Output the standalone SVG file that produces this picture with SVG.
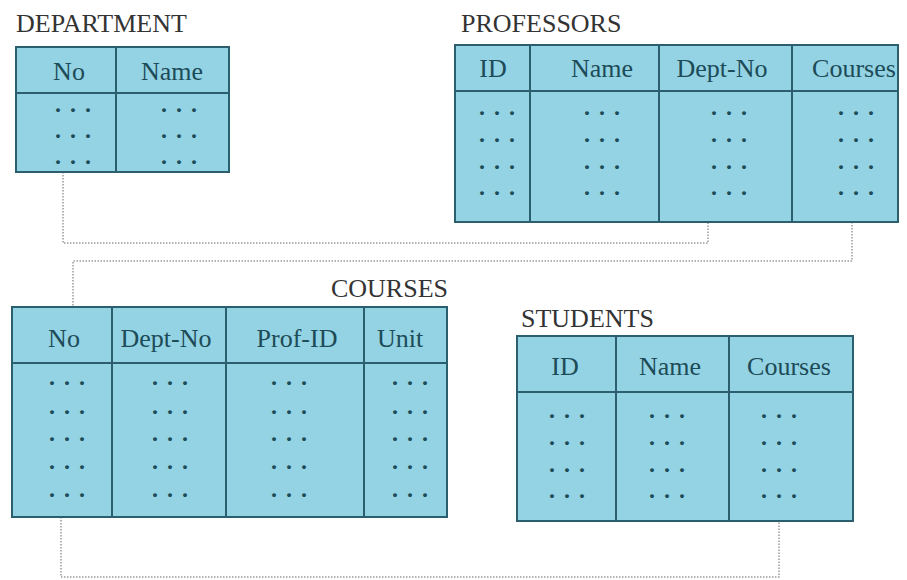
<svg xmlns="http://www.w3.org/2000/svg" width="907" height="580" viewBox="0 0 907 580" font-family="Liberation Serif, DejaVu Serif, serif">
  <style>
    .tbl { fill: #93d3e4; stroke: #2c5f6e; stroke-width: 2; }
    .grid { stroke: #2c5f6e; stroke-width: 2; fill: none; }
    .title { font-size: 26px; fill: #333333; }
    .hdr { font-size: 26px; fill: #1d4b57; text-anchor: middle; }
    .dots { font-size: 24px; font-weight: bold; fill: #1d4b57; letter-spacing: 9px; }
    .link { fill: none; stroke: #9a9a9a; stroke-width: 1.5; stroke-dasharray: 1.5 1.5; }
  </style>
  <rect width="907" height="580" fill="#ffffff"/>

  <!-- relationships between tables -->
  <g id="connectors">
    <path class="link" d="M63,172 V243 H708 V222"/>
    <path class="link" d="M852,222 V261 H73 V307"/>
    <path class="link" d="M61,517 V577 H779 V521"/>
  </g>

  <!-- DEPARTMENT -->
  <g id="department">
    <text class="title" x="16" y="32">DEPARTMENT</text>
    <rect class="tbl" x="16" y="47" width="213" height="125"/>
    <path class="grid" d="M16,93 H229 M116,47 V172"/>
    <text class="hdr" x="69" y="80">No</text>
    <text class="hdr" x="172" y="80">Name</text>
    <g class="dots">
      <text x="55" y="112">...</text><text x="161" y="112">...</text>
      <text x="55" y="138">...</text><text x="161" y="138">...</text>
      <text x="55" y="164">...</text><text x="161" y="164">...</text>
    </g>
  </g>

  <!-- PROFESSORS -->
  <g id="professors">
    <text class="title" x="461" y="32">PROFESSORS</text>
    <rect class="tbl" x="455" y="45" width="443" height="177"/>
    <path class="grid" d="M455,91 H898 M530,45 V222 M659,45 V222 M792,45 V222"/>
    <text class="hdr" x="493" y="77">ID</text>
    <text class="hdr" x="602" y="77">Name</text>
    <text class="hdr" x="722" y="77">Dept-No</text>
    <text class="hdr" x="854" y="77">Courses</text>
    <g class="dots">
      <text x="479" y="115">...</text><text x="584" y="115">...</text><text x="711" y="115">...</text><text x="838" y="115">...</text>
      <text x="479" y="142">...</text><text x="584" y="142">...</text><text x="711" y="142">...</text><text x="838" y="142">...</text>
      <text x="479" y="169">...</text><text x="584" y="169">...</text><text x="711" y="169">...</text><text x="838" y="169">...</text>
      <text x="479" y="195">...</text><text x="584" y="195">...</text><text x="711" y="195">...</text><text x="838" y="195">...</text>
    </g>
  </g>

  <!-- COURSES -->
  <g id="courses">
    <text class="title" x="448" y="297" text-anchor="end">COURSES</text>
    <rect class="tbl" x="12" y="307" width="435" height="210"/>
    <path class="grid" d="M12,363 H447 M112,307 V517 M226,307 V517 M364,307 V517"/>
    <text class="hdr" x="64" y="347">No</text>
    <text class="hdr" x="166" y="347">Dept-No</text>
    <text class="hdr" x="297" y="347">Prof-ID</text>
    <text class="hdr" x="400" y="347">Unit</text>
    <g class="dots">
      <text x="49" y="385">...</text><text x="152" y="385">...</text><text x="271" y="385">...</text><text x="392" y="385">...</text>
      <text x="49" y="414">...</text><text x="152" y="414">...</text><text x="271" y="414">...</text><text x="392" y="414">...</text>
      <text x="49" y="441">...</text><text x="152" y="441">...</text><text x="271" y="441">...</text><text x="392" y="441">...</text>
      <text x="49" y="469">...</text><text x="152" y="469">...</text><text x="271" y="469">...</text><text x="392" y="469">...</text>
      <text x="49" y="497">...</text><text x="152" y="497">...</text><text x="271" y="497">...</text><text x="392" y="497">...</text>
    </g>
  </g>

  <!-- STUDENTS -->
  <g id="students">
    <text class="title" x="521" y="327">STUDENTS</text>
    <rect class="tbl" x="517" y="336" width="336" height="185"/>
    <path class="grid" d="M517,392 H853 M616,336 V521 M729,336 V521"/>
    <text class="hdr" x="565" y="375">ID</text>
    <text class="hdr" x="670" y="375">Name</text>
    <text class="hdr" x="789" y="375">Courses</text>
    <g class="dots">
      <text x="549" y="418">...</text><text x="649" y="418">...</text><text x="761" y="418">...</text>
      <text x="549" y="445">...</text><text x="649" y="445">...</text><text x="761" y="445">...</text>
      <text x="549" y="472">...</text><text x="649" y="472">...</text><text x="761" y="472">...</text>
      <text x="549" y="498">...</text><text x="649" y="498">...</text><text x="761" y="498">...</text>
    </g>
  </g>
</svg>
